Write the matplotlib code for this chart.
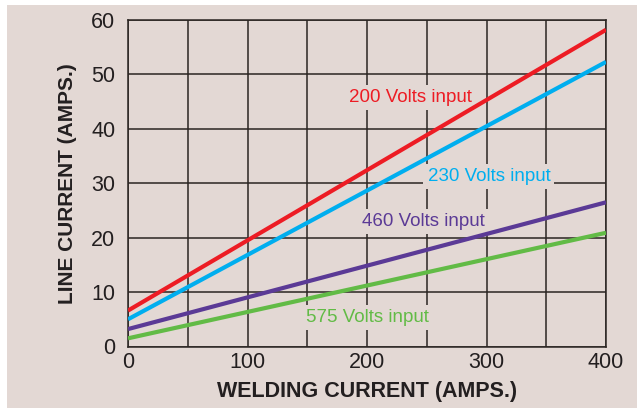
import numpy as np
import matplotlib.pyplot as plt
from matplotlib.patches import Rectangle

# Values: line current at 0 and 400 A welding current
welding = np.array([0, 400])
series = ['200 Volts input', '230 Volts input', '460 Volts input', '575 Volts input']
line_200 = np.array([6.6, 58.2])
line_230 = np.array([5.0, 52.3])
line_460 = np.array([3.2, 26.5])
line_575 = np.array([1.5, 20.9])
# where each series label sits (data coords)
label_x = [236, 302, 247, 200]
label_y = [45.8, 31.3, 23.0, 5.3]

colors = ['#ed1c24', '#00aeef', '#5b3a96', '#62bb46']
bg = '#e3d8d4'
ink = '#231f20'

plt.rcParams['font.family'] = ['Liberation Sans', 'DejaVu Sans']

fig = plt.figure(figsize=(6.37, 4.08), dpi=100)
fig.patch.set_facecolor('white')
# pinkish panel behind everything, with a thin white margin top and left
fig.patches.append(Rectangle((7 / 637, 0), 1, 1 - 5 / 408, transform=fig.transFigure,
                             facecolor=bg, edgecolor='none', zorder=-10))

ax = fig.add_axes([128 / 637, 1 - 346.5 / 408, 478 / 637, 326.5 / 408])
ax.set_facecolor(bg)

for y, c in zip([line_200, line_230, line_460, line_575], colors):
    ax.plot(welding, y, color=c, lw=3, solid_capstyle='butt', zorder=3)

for name, x, y, c in zip(series, label_x, label_y, colors):
    ax.text(x, y, name, color=c, fontsize=13.5, ha='center', va='center', zorder=2,
            bbox=dict(facecolor=bg, edgecolor='none', pad=3))

ax.set_xlim(0, 400)
ax.set_ylim(0, 60)
ax.set_xticks(np.arange(0, 401, 50))
ax.set_xticklabels(['0', '', '100', '', '200', '', '300', '', '400'])
ax.set_yticks(np.arange(0, 61, 10))
ax.tick_params(length=0, labelsize=15.5, colors=ink, pad=4)
ax.tick_params(axis='y', pad=9)
ax.grid(color='#2b2522', lw=1.1, zorder=1)
ax.set_axisbelow(True)
for s in ax.spines.values():
    s.set_color('#2b2522')
    s.set_linewidth(1.1)

ax.set_xlabel('WELDING CURRENT (AMPS.)', fontsize=15.5, fontweight='bold', color=ink, labelpad=6)
ax.set_ylabel('LINE CURRENT (AMPS.)', fontsize=15, fontweight='bold', color=ink, labelpad=10)

fig.savefig('out.png', dpi=100)
